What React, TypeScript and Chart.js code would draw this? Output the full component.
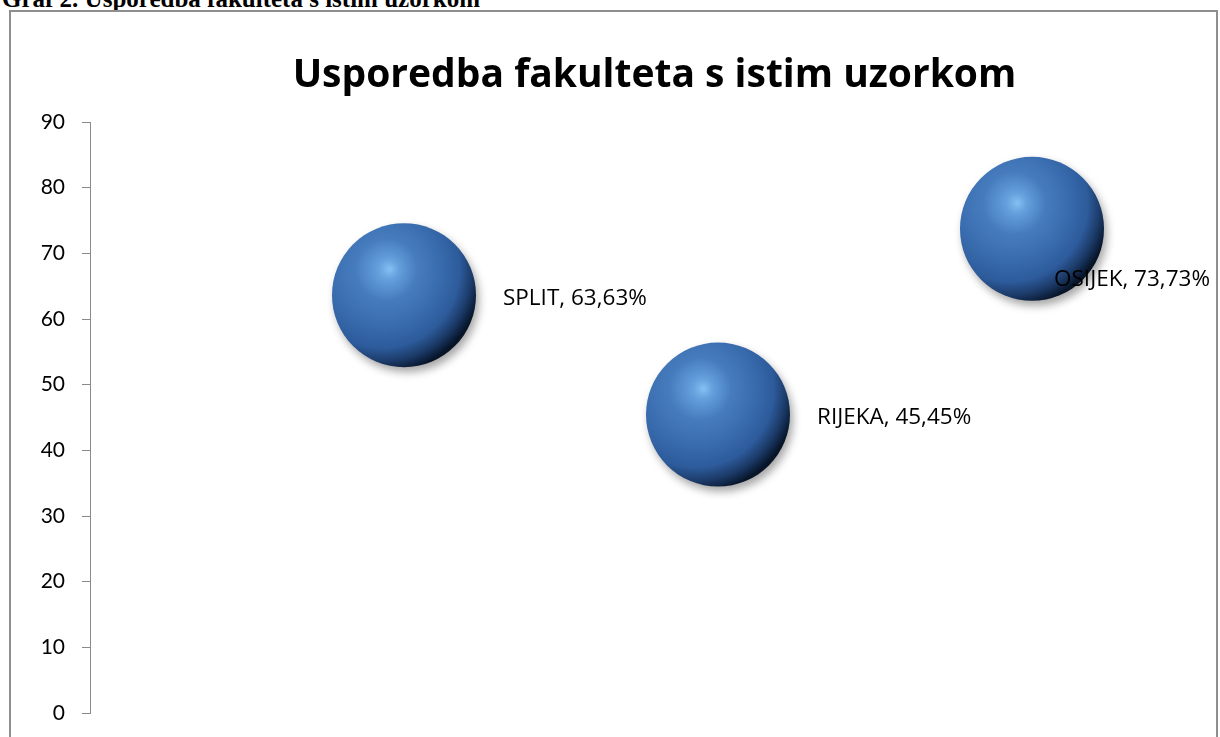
import React, { useEffect, useRef } from "react";
import { Chart, registerables } from "chart.js";

Chart.register(...registerables);

const categories = ["SPLIT", "RIJEKA", "OSIJEK"];
const xPositions = [1, 2, 3];
const percentValues = [63.63, 45.45, 73.73];
const bubbleSizes = [72, 72, 72];
const yTicks = [0, 10, 20, 30, 40, 50, 60, 70, 80, 90];
const chartTitle = "Usporedba fakulteta s istim uzorkom";
const caption = "Graf 2. Usporedba fakulteta s istim uzorkom";

const FONT = "Lato, 'Open Sans', sans-serif";
const FONT2 = "'Open Sans', Lato, sans-serif";

function sphereFill(c: any) {
  const chart = c.chart;
  const raw = c.raw;
  if (!raw || !chart.chartArea || !chart.scales.x) return "#3a6fb0";
  const x = chart.scales.x.getPixelForValue(raw.x);
  const y = chart.scales.y.getPixelForValue(raw.y);
  const r = raw.r;
  const g = chart.ctx.createRadialGradient(
    x - 0.2 * r, y - 0.36 * r, 0,
    x - 0.35 * r, y - 0.35 * r, 1.45 * r
  );
  g.addColorStop(0, "#86bff3");
  g.addColorStop(0.1, "#659fdc");
  g.addColorStop(0.3, "#467cbe");
  g.addColorStop(0.55, "#386bad");
  g.addColorStop(0.75, "#2d5b9b");
  g.addColorStop(0.88, "#1c3b69");
  g.addColorStop(0.96, "#0e2240");
  g.addColorStop(1, "#081528");
  return g;
}

const shadowPlugin = {
  id: "sphereShadow",
  beforeDatasetDraw(chart: any) {
    const ctx = chart.ctx;
    ctx.save();
    ctx.shadowColor = "rgba(0,0,0,0.35)";
    ctx.shadowBlur = 9;
    ctx.shadowOffsetX = 3;
    ctx.shadowOffsetY = 5;
  },
  afterDatasetDraw(chart: any) {
    chart.ctx.restore();
  },
};

const labelPlugin = {
  id: "bubbleLabels",
  afterDatasetsDraw(chart: any) {
    const ctx = chart.ctx;
    const meta = chart.getDatasetMeta(0);
    ctx.save();
    ctx.font = `22.5px ${FONT2}`;
    ctx.fillStyle = "#000";
    ctx.textBaseline = "middle";
    ctx.textAlign = "left";
    meta.data.forEach((el: any, i: number) => {
      const txt = `${categories[i]}, ${percentValues[i].toFixed(2).replace(".", ",")}%`;
      const w = ctx.measureText(txt).width;
      const r = bubbleSizes[i];
      let lx = el.x + r + 27;
      let ly = el.y + 3;
      if (lx + w > chart.width - 6) {
        lx = chart.width - 6 - w;
        ly = el.y + r * 0.7;
      }
      ctx.fillText(txt, lx, ly);
    });
    ctx.restore();
  },
};

const titlePlugin = {
  id: "customTitle",
  afterDraw(chart: any) {
    const ctx = chart.ctx;
    ctx.save();
    ctx.font = `bold 39px ${FONT2}`;
    ctx.fillStyle = "#000";
    ctx.textAlign = "center";
    ctx.textBaseline = "alphabetic";
    ctx.fillText(chartTitle, chart.width * 0.534, 75);
    ctx.restore();
  },
};

export default function App() {
  const ref = useRef<HTMLCanvasElement>(null);
  useEffect(() => {
    if (!ref.current) return;
    const chart = new Chart(ref.current, {
      type: "bubble",
      data: {
        datasets: [
          {
            label: "Fakulteti",
            data: categories.map((_, i) => ({
              x: xPositions[i],
              y: percentValues[i],
              r: bubbleSizes[i],
            })),
            backgroundColor: sphereFill as any,
            borderWidth: 0,
            hoverBorderWidth: 0,
            clip: false as any,
          },
        ],
      },
      options: {
        animation: false,
        responsive: false,
        maintainAspectRatio: false,
        layout: { autoPadding: false, padding: { top: 110, right: 27, bottom: 55, left: 0 } },
        plugins: {
          legend: { display: false },
          title: { display: false },
          tooltip: { enabled: false },
        },
        scales: {
          x: { display: false, min: 0, max: 3.5 },
          y: {
            min: 0,
            max: 90,
            afterBuildTicks: (s: any) => {
              s.ticks = yTicks.map((v) => ({ value: v }));
            },
            afterFit: (s: any) => {
              s.width = 79;
            },
            ticks: {
              stepSize: 10,
              color: "#000",
              padding: 17,
              font: { family: FONT, size: 21 },
            },
            grid: {
              display: true,
              drawOnChartArea: false,
              drawTicks: true,
              tickLength: 8,
              color: "#8a8a8a",
            },
            border: { display: true, color: "#8a8a8a", width: 1 },
          },
        },
      },
      plugins: [shadowPlugin, labelPlugin, titlePlugin],
    });
    return () => chart.destroy();
  }, []);

  return (
    <div
      style={{
        position: "fixed",
        left: 0,
        top: 0,
        width: "100vw",
        height: "100vh",
        overflow: "hidden",
        background: "#fff",
      }}
    >
      <div
        style={{
          position: "absolute",
          left: 2,
          top: -13.5,
          fontFamily: "'Liberation Serif', 'Times New Roman', serif",
          fontWeight: "bold",
          fontSize: 25,
          lineHeight: "24px",
          whiteSpace: "nowrap",
          color: "#000",
        }}
      >
        {caption}
      </div>
      <div
        style={{
          position: "absolute",
          left: 9,
          top: 10,
          width: 1209,
          height: 760,
          border: "2px solid #8e8e8e",
          boxSizing: "border-box",
        }}
      >
        <canvas ref={ref} width={1205} height={756} style={{ display: "block" }} />
      </div>
    </div>
  );
}
